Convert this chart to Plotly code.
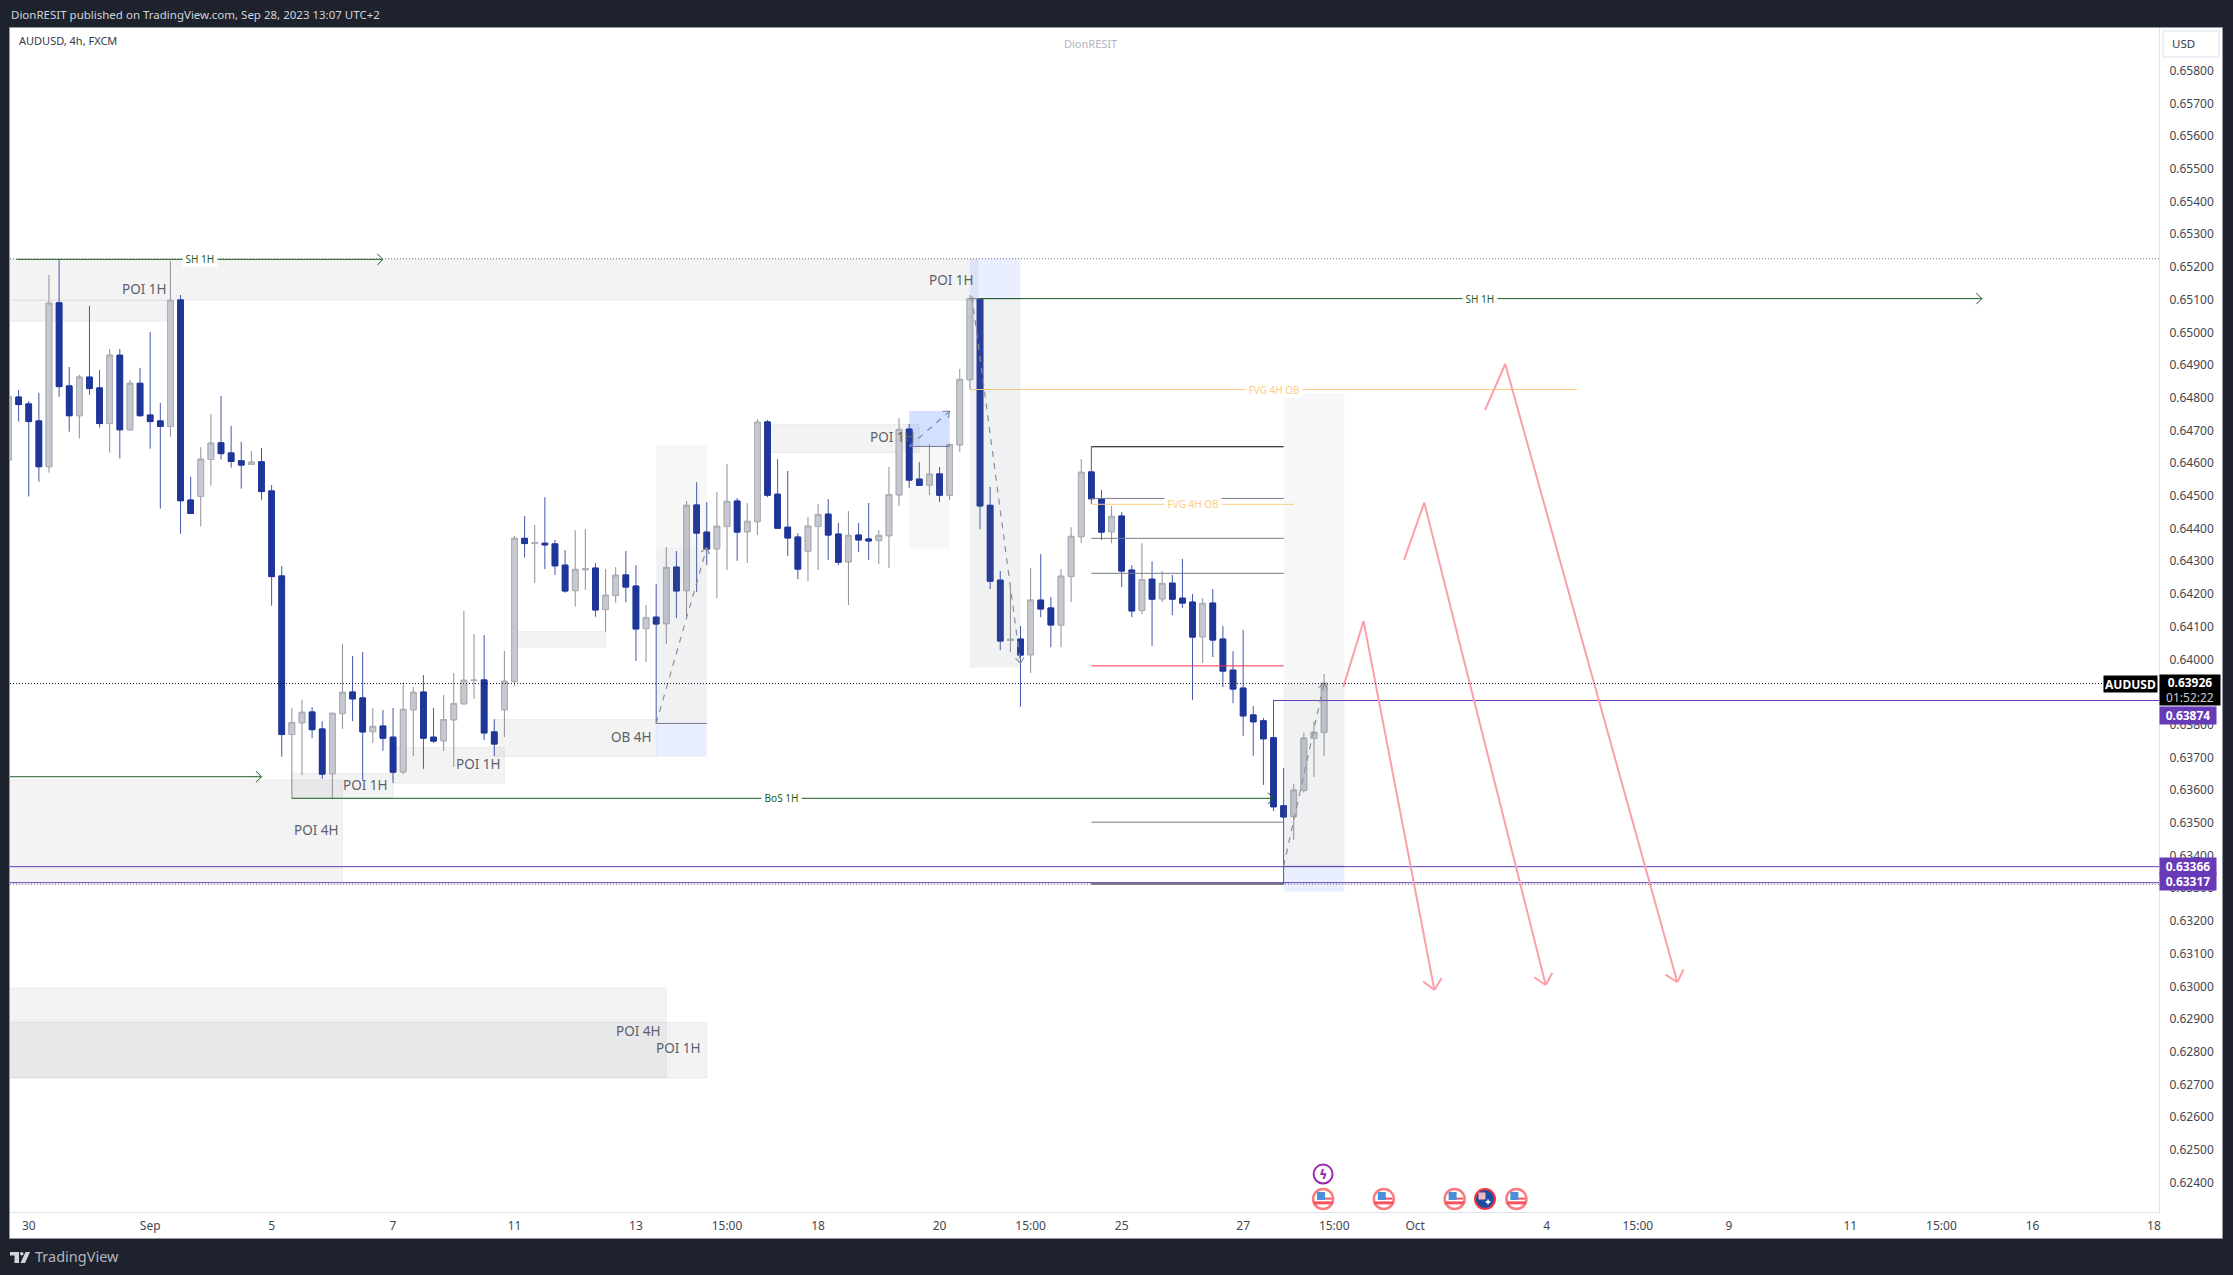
import math
import plotly.graph_objects as go

W, H = 2233, 1275
L, R, T, B = 10, 2159, 28, 1212
PX_PER_BAR = 10.12
PX_PER_PT = 0.327  # pixels per 0.00001 of price
PT = 1e-5

# ---- OHLC, in 0.00001 price points
open_pts = [64610,64802,64781,64729,64589,65090,64836,64745,64863,64830,64721,64930,64702,64844,64747,64729,64712,65099,64487,64498,
64611,64662,64631,64607,64596,64604,64515,64255,63770,63806,63839,63787,63650,63834,63900,63882,63779,63796,63762,63656,
63846,63900,63762,63751,63815,63864,63935,63937,63778,63846,63932,64370,64354,64355,64353,64288,64210,64274,64279,64152,
64195,64258,64224,64094,64129,64109,64282,64210,64472,64389,64338,64406,64484,64390,64421,64726,64505,64404,64374,64331,
64406,64444,64383,64298,64380,64368,64363,64378,64503,64704,64551,64533,64567,64502,64656,64855,65103,64471,64242,64058,
64062,64014,64181,64157,64105,64253,64375,64573,64491,64390,64438,64273,64149,64245,64185,64233,64187,64175,64069,64172,
64062,63967,63912,63830,63812,63760,63552,63519,63599,63758,63777]
high_pts = [64824,64824,64790,64815,65175,65223,64894,64870,65081,64885,64949,64949,64854,64891,65001,64784,65218,65114,64558,64649,
64750,64805,64714,64665,64637,64646,64533,64285,63851,63876,63854,63811,63835,64047,64010,64022,63851,63845,63851,63930,
63915,63952,63851,63891,63958,64148,64077,64074,63817,64025,64377,64438,64411,64496,64365,64334,64395,64398,64294,64276,
64282,64331,64288,64166,64230,64343,64331,64484,64542,64481,64512,64597,64493,64478,64735,64732,64612,64576,64386,64435,
64475,64490,64417,64453,64417,64478,64395,64588,64738,64719,64603,64658,64588,64661,64888,65114,65103,64527,64270,64227,
64102,64279,64322,64190,64276,64404,64612,64650,64518,64469,64450,64288,64355,64300,64270,64258,64307,64200,64187,64215,
64102,64025,64090,63857,63821,63876,63668,63619,63776,63810,63955]
low_pts = [64600,64727,64498,64543,64571,64803,64696,64675,64809,64709,64632,64614,64699,64742,64644,64461,64681,64384,64446,64406,
64531,64611,64586,64522,64594,64488,64164,63702,63575,63646,63759,63634,63575,63787,63811,63631,63744,63720,63622,63649,
63704,63665,63744,63720,63671,63864,63879,63753,63704,63762,63919,64311,64234,64276,64258,64204,64161,64212,64130,64084,
64173,64175,63995,63992,63804,64047,64126,64132,64206,64288,64187,64273,64301,64294,64380,64496,64401,64316,64245,64239,
64273,64304,64288,64166,64328,64304,64291,64279,64469,64524,64530,64502,64481,64487,64634,64826,64398,64215,64028,64022,
63855,63958,64129,64037,64037,64175,64355,64475,64365,64355,64221,64129,64138,64041,64175,64135,64157,63875,63989,64007,
63915,63866,63766,63705,63616,63536,63312,63448,63592,63640,63705]
close_pts = [64803,64779,64727,64589,65089,64834,64745,64863,64828,64721,64930,64702,64844,64745,64727,64712,65098,64485,64446,64612,
64661,64629,64605,64594,64603,64513,64253,63770,63807,63838,63785,63649,63835,63899,63879,63778,63795,63759,63655,63847,
63899,63759,63750,63816,63865,63936,63936,63775,63741,63933,64370,64354,64356,64350,64286,64209,64275,64277,64151,64196,
64257,64221,64093,64128,64108,64281,64209,64471,64386,64337,64407,64483,64389,64422,64725,64502,64401,64371,64276,64407,
64443,64380,64297,64379,64365,64362,64379,64504,64703,64548,64532,64566,64502,64657,64856,65103,64469,64239,64056,64061,
64013,64181,64154,64105,64254,64376,64572,64491,64389,64437,64270,64148,64244,64184,64232,64184,64172,64068,64171,64059,
63964,63909,63827,63809,63757,63549,63518,63600,63759,63777,63927]

# ---- Axes
price_ticks = [0.658,0.657,0.656,0.655,0.654,0.653,0.652,0.651,0.650,0.649,0.648,0.647,0.646,0.645,0.644,0.643,0.642,0.641,0.640,
               0.639,0.638,0.637,0.636,0.635,0.634,0.633,0.632,0.631,0.630,0.629,0.628,0.627,0.626,0.625,0.624]
time_tick_bars = [2,14,26,38,50,62,71,80,92,101,110,122,131,139,152,161,170,182,191,200,212]
time_tick_text = ["30","Sep","5","7","11","13","15:00","18","20","15:00","25","27","15:00","Oct","4","15:00","9","11","15:00","16","18"]

# ---- Zones: bar from, bar to, price from, price to
poi_zones = [(-2,15.8,65034,65098),(-2,95.8,65098,65223),(-2,33,63318,63631),(28,38,63575,63651),(38,49,63621,63731),
             (48,64,63702,63816),(50.3,59,64036,64085),(75,90,64632,64718),(-2,65,62720,62995),(-2,69,62720,62890)]
target_zones = [(64,69,63702,63804),(95,100,65103,65226),(126,132,63290,63367)]
strong_target_zones = [(89,93,64651,64759)]
stop_zones = [(64,69,63804,64341),(95,100,63975,65103),(126,132,63367,63927)]
fade_zones = [(64,69,64341,64654),(89,93,64338,64651),(126,132,63927,64813)]

# ---- Horizontal levels: bar from, bar to, price
structure_levels = [(107,126,64492),(107,126,64370),(107,126,64263),(107,126,63502),(64,69,63804),(89,93,64651),(126,132,63367),(95,100,65103)]
black_levels = [(107,126,64650),(107,126,63313)]
red_levels = [(107,126,63980)]
orange_levels = [(95,155,64825),(107,127,64474)]
green_arrows = [(0.8,37,65223),(96,195,65103),(-2,25,63641),(28,125,63575)]
purple_levels = [(-2,213,63366,),(-2,213,63317),(125,213,63874)]
dotted_grey = [65225,63312]

last_price = 63926
tags_purple = [(63874,-14.5),(63366,0),(63317,1)]

# ---- Drawn paths
dashed_paths = [([64,69],[63804,64341]),([89,93],[64651,64759]),([95.2,100],[65110,63988]),([126,130],[63367,63927])]
pink_paths = [([131.9,133.9,140.9],[63915,64117,62989]),([137.9,139.9,151.9],[64304,64479,63004]),([145.9,147.9,164.9],[64762,64903,63013])]

# ---- Texts: text, bar, price
poi_labels = [("POI 1H",13.4,65131),("POI 1H",93.2,65160),("POI 1H",87.4,64680),("OB 4H",61.6,63762),("POI 1H",35.3,63616),
              ("POI 1H",46.4,63680),("POI 4H",30.4,63478),("POI 4H",62.3,62863),("POI 1H",66.2,62811)]
green_labels = [("SH 1H",18.9,65223),("SH 1H",145.4,65103),("BoS 1H",76.4,63575)]
orange_labels = [("FVG 4H OB",125,64825),("FVG 4H OB",117,64474)]

# ---- Calendar events
us_event_bars = [129.9,135.9,142.9,149]
au_event_bars = [145.9]
event_row = 62350
flash_event_bar = 129.9
flash_row = 62426

n = len(open_pts)
bars = list(range(n))
o = [v*PT for v in open_pts]; h = [v*PT for v in high_pts]; l = [v*PT for v in low_pts]; c = [v*PT for v in close_pts]
body_hi = [max(a,b) for a,b in zip(o,c)]
body_lo = [min(a,b) for a,b in zip(o,c)]

fig = go.Figure()
# wicks, then bodies with their own borders
fig.add_trace(go.Candlestick(x=bars, open=o, high=h, low=l, close=c, hoverinfo="skip", showlegend=False,
    increasing=dict(line=dict(color="#8f9094", width=1), fillcolor="#c7c9d1"),
    decreasing=dict(line=dict(color="#4457ad", width=1), fillcolor="#1f3699")))
fig.add_trace(go.Candlestick(x=bars, open=o, high=body_hi, low=body_lo, close=c, hoverinfo="skip", showlegend=False,
    increasing=dict(line=dict(color="#adb0b8", width=1), fillcolor="#c7c9d1"),
    decreasing=dict(line=dict(color="#1f3699", width=1), fillcolor="#1f3699")))

def head(xe, ye, x0, y0, size=13, spread=32):
    """two barbs at the end of a segment, measured on screen"""
    ang = math.atan2((ye-y0)*PX_PER_PT, (xe-x0)*PX_PER_BAR)
    xs, ys = [], []
    for s in (1,-1):
        a = ang + math.pi + s*math.radians(spread)
        xs += [xe + size*math.cos(a)/PX_PER_BAR, xe, None]
        ys += [(ye + size*math.sin(a)/PX_PER_PT)*PT, ye*PT, None]
    return xs, ys

def line(xs, ys, color, width=1, dash="solid"):
    fig.add_trace(go.Scatter(x=xs, y=ys, mode="lines", line=dict(color=color, width=width, dash=dash),
                             hoverinfo="skip", showlegend=False, connectgaps=False))

def levels(items, color, width=1):
    xs, ys = [], []
    for a in items:
        xs += [a[0], a[1], None]; ys += [a[2]*PT, a[2]*PT, None]
    line(xs, ys, color, width)

shapes = []
def zone(z, fill, layer, edge="rgba(0,0,0,0)"):
    shapes.append(dict(type="rect", xref="x", yref="y", x0=z[0], x1=z[1], y0=z[2]*PT, y1=z[3]*PT,
                       fillcolor=fill, line=dict(color=edge, width=1), layer=layer))
for z in poi_zones:
    zone(z, "rgba(120,123,134,0.09)", "below", "rgba(120,123,134,0.09)")
for z in fade_zones:
    zone(z, "rgba(120,123,134,0.06)", "above")
for z in stop_zones:
    zone(z, "rgba(120,123,134,0.11)", "above")
for z in target_zones:
    zone(z, "rgba(41,98,255,0.1)", "above")
for z in strong_target_zones:
    zone(z, "rgba(41,98,255,0.2)", "above")
for p in dotted_grey:
    shapes.append(dict(type="line", xref="paper", yref="y", x0=0, x1=1, y0=p*PT, y1=p*PT, line=dict(color="#787b86", width=1, dash="1px,2px")))
shapes.append(dict(type="line", xref="paper", yref="y", x0=0, x1=(2105-L)/(R-L), y0=last_price*PT, y1=last_price*PT,
                   line=dict(color="#131722", width=1, dash="1px,2px")))

levels(structure_levels, "#787b86", 1)
levels(black_levels, "#000000", 1)
levels(red_levels, "#f23645", 1)
levels(orange_levels, "#ffcc80", 1)
levels(purple_levels, "#673ab7", 1)
levels(green_arrows, "#1b5e20", 1)
for a in green_arrows:
    hx, hy = head(a[1], a[2], a[0], a[2], size=8, spread=45)
    line(hx, hy, "#1b5e20", 1)

for xs, ys in dashed_paths:
    line(xs, [v*PT for v in ys], "#8f929b", 1.2, "6px,6px")
    hx, hy = head(xs[-1], ys[-1], xs[0], ys[0], size=7, spread=38)
    line(hx, hy, "#8f929b", 1.2)
for xs, ys in pink_paths:
    line(xs, [v*PT for v in ys], "#fb9fa8", 2)
    hx, hy = head(xs[-1], ys[-1], xs[1], ys[1], size=14, spread=42)
    line(hx, hy, "#fb9fa8", 2)

# calendar markers
def mark(xs, ys, symbol, size, color, lc="rgba(0,0,0,0)", lw=0):
    fig.add_trace(go.Scatter(x=xs, y=ys, mode="markers", hoverinfo="skip", showlegend=False, cliponaxis=False,
                             marker=dict(symbol=symbol, size=size, color=color, line=dict(color=lc, width=lw))))
e_y = event_row*PT
mark(us_event_bars, [e_y]*len(us_event_bars), "circle", 20, "#ffffff", "#f77c80", 2.5)
mark(us_event_bars, [e_y-12*PT]*len(us_event_bars), "line-ew", 14, "#f7525f", "#f7525f", 3)
mark([b+0.3 for b in us_event_bars], [e_y+1*PT]*len(us_event_bars), "line-ew", 8, "#f7525f", "#f7525f", 2)
mark([b-0.2 for b in us_event_bars], [e_y+9*PT]*len(us_event_bars), "square", 8, "#4a90d9")
mark(au_event_bars, [e_y]*len(au_event_bars), "circle", 20, "#1c4d9e", "#f23645", 2)
mark([b-0.3 for b in au_event_bars], [e_y+9*PT]*len(au_event_bars), "square", 7, "#f4b6bb")
mark([b+0.3 for b in au_event_bars], [e_y-9*PT]*len(au_event_bars), "cross", 4, "#ffffff")
mark([flash_event_bar], [flash_row*PT], "circle", 19, "#ffffff", "#9c27b0", 2)

FONT = "Noto Sans"
def px_x(px): return (px-L)/(R-L)
def px_y(py): return 1-(py-T)/(B-T)

anns = []
def note(text, x, y, size, color, bg=None, xref="x", yref="y", anchor="center", **kw):
    d = dict(text=text, x=x, y=y, xref=xref, yref=yref, showarrow=False, xanchor=anchor, yanchor="middle",
             font=dict(family=FONT, size=size, color=color), borderpad=0)
    if bg:
        d["bgcolor"] = bg
    d.update(kw)
    anns.append(d)

for t, x, p in poi_labels:
    note(t, x, p*PT, 13.5, "#5d606b")
for t, x, p in green_labels:
    note("&nbsp;"+t+"&nbsp;", x, p*PT, 10, "#1b5e20", "#ffffff")
for t, x, p in orange_labels:
    note("&nbsp;"+t+"&nbsp;", x, p*PT, 10, "#ffcc80", "#ffffff")
anns.append(dict(text="<b>ϟ</b>", x=flash_event_bar, y=flash_row*PT, xref="x", yref="y", showarrow=False,
                 font=dict(family="DejaVu Sans", size=13, color="#9c27b0")))

# price tags
for p, shift in tags_purple:
    note("<b>%.5f</b>" % (p*PT), 1, p*PT, 12, "#ffffff", "#673ab7", xref="paper", anchor="left",
         width=56, height=17, yshift=shift, align="center")
note("<b>%.5f</b><br><span style='color:#c8cad0'>01:52:22</span>" % (last_price*PT), 1, last_price*PT, 12, "#ffffff", "#000000",
     xref="paper", anchor="left", width=60, height=30, yshift=-6, align="center")
note("<b>AUDUSD</b>", 1, last_price*PT, 12, "#ffffff", "#000000", xref="paper", anchor="right", width=53, height=16, xshift=-1, align="center")

# chrome texts
note("DionRESIT published on TradingView.com, Sep 28, 2023 13:07 UTC+2", px_x(10), px_y(14.5), 11.5, "#d1d4dc", xref="paper", yref="paper", anchor="left")
note("AUDUSD, 4h, FXCM", px_x(18), px_y(41), 11, "#363a45", xref="paper", yref="paper", anchor="left")
note("DionRESIT", px_x(1090), px_y(43), 11, "#b2b5be", xref="paper", yref="paper")
note("USD", px_x(2183), px_y(44), 11.5, "#363a45", xref="paper", yref="paper")
note("TradingView", px_x(34), px_y(1255.5), 14.5, "#b2b5be", xref="paper", yref="paper", anchor="left")

def px_rect(x0, y0, x1, y1, **kw):
    return dict(type="rect", xref="paper", yref="paper", x0=px_x(x0), x1=px_x(x1), y0=px_y(y0), y1=px_y(y1), **kw)

# frame, USD box, logo
shapes.insert(0, px_rect(9.5, 27.5, 2222.5, 1238.5, fillcolor="#ffffff", line=dict(color="#9598a1", width=1), layer="below"))
shapes.append(px_rect(2163, 31, 2219, 57, fillcolor="rgba(255,255,255,0)", line=dict(color="#e8ebf3", width=1.5), layer="above"))
shapes.append(px_rect(10, 1252, 19, 1255.5, fillcolor="#d1d4dc", line=dict(width=0), layer="above"))
shapes.append(px_rect(14.5, 1255, 19, 1263, fillcolor="#d1d4dc", line=dict(width=0), layer="above"))
shapes.append(dict(type="circle", xref="paper", yref="paper", x0=px_x(20), x1=px_x(23.5), y0=px_y(1252), y1=px_y(1255.5),
                   fillcolor="#d1d4dc", line=dict(width=0), layer="above"))
shapes.append(dict(type="path", xref="paper", yref="paper", layer="above", fillcolor="#d1d4dc", line=dict(width=0),
                   path="M %f %f L %f %f L %f %f L %f %f Z" % (px_x(25.5), px_y(1252), px_x(30), px_y(1252), px_x(25), px_y(1263), px_x(20.5), px_y(1263))))

fig.update_layout(
    width=W, height=H, autosize=False,
    margin=dict(l=L, r=W-R, t=T, b=H-B, pad=0),
    paper_bgcolor="#1e222d", plot_bgcolor="rgba(255,255,255,0)",
    font=dict(family=FONT, size=12, color="#363a45"),
    showlegend=False, hovermode=False, dragmode=False, boxgap=0.2,
    shapes=shapes, annotations=anns,
    xaxis=dict(type="linear", range=[(L-8.5)/PX_PER_BAR, (R-8.5)/PX_PER_BAR], rangeslider=dict(visible=False),
               tickmode="array", tickvals=time_tick_bars, ticktext=time_tick_text, showgrid=False, zeroline=False,
               showline=True, linecolor="#e0e3eb", linewidth=1, ticks="outside", ticklen=3, tickcolor="rgba(0,0,0,0)",
               tickfont=dict(family=FONT, size=12, color="#434651"), automargin=False),
    yaxis=dict(side="right", range=[0.62310, 0.659305], tickmode="array", tickvals=price_ticks,
               ticktext=["%.5f" % v for v in price_ticks], showgrid=False, zeroline=False,
               showline=True, linecolor="#e0e3eb", linewidth=1, ticks="outside", ticklen=7, tickcolor="rgba(0,0,0,0)",
               tickfont=dict(family=FONT, size=12, color="#434651"), automargin=False),
)
fig.write_html("out.html", config=dict(displayModeBar=False, staticPlot=True),
               post_script="document.body.style.margin='0';document.body.style.background='#1e222d';document.body.style.overflow='hidden';")
